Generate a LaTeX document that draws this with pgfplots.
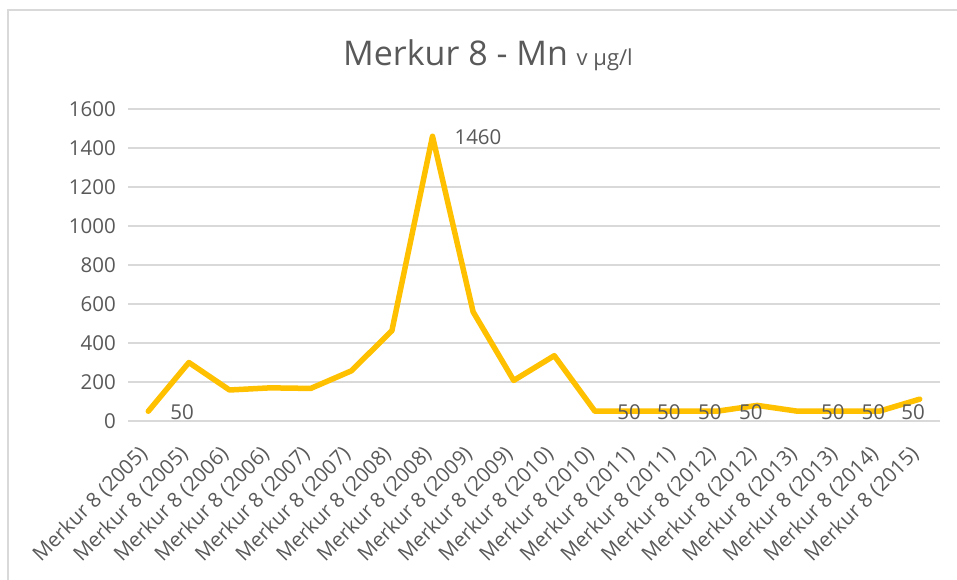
\documentclass[border=0pt]{standalone}
\usepackage{fontspec}
\setmainfont{Open Sans}
\usepackage{pgfplots}
\pgfplotsset{compat=1.18}
\definecolor{txt}{HTML}{595959}
\definecolor{gridc}{HTML}{D9D9D9}
\definecolor{gold}{HTML}{FFC000}
\newcommand{\tk}{\fontsize{20.5bp}{24bp}\selectfont}
\begin{document}
\begin{tikzpicture}
\path[use as bounding box] (0,0) rectangle (957bp,580bp);
\draw[gridc, line width=1.2bp] (8bp,-20bp) -- (8bp,570bp) -- (990bp,570bp);
\node[anchor=base, text=txt, inner sep=0pt] at (488bp,514bp) {\fontsize{34bp}{38bp}\selectfont Merkur 8 - Mn \fontsize{22bp}{26bp}\selectfont v µg/l};
\begin{axis}[
  at={(128bp,159bp)}, anchor=south west,
  scale only axis, width=812bp, height=312bp,
  xmin=-0.5, xmax=19.5, ymin=0, ymax=1600,
  ytick={0,200,...,1600},
  xtick={0,...,19},
  xticklabels={Merkur 8 (2005),Merkur 8 (2005),Merkur 8 (2006),Merkur 8 (2006),Merkur 8 (2007),Merkur 8 (2007),Merkur 8 (2008),Merkur 8 (2008),Merkur 8 (2009),Merkur 8 (2009),Merkur 8 (2010),Merkur 8 (2010),Merkur 8 (2011),Merkur 8 (2011),Merkur 8 (2012),Merkur 8 (2012),Merkur 8 (2013),Merkur 8 (2013),Merkur 8 (2014),Merkur 8 (2015)},
  axis line style={draw=none},
  major tick length=0pt,
  tick style={draw=none},
  ymajorgrids,
  grid style={gridc, line width=1.3bp},
  /pgf/number format/assume math mode=true,
  /pgf/number format/set thousands separator={},
  yticklabel style={font=\tk, text=txt, anchor=east, inner sep=0pt, xshift=-12bp},
  xticklabel style={font=\tk, text=txt, xshift=-11bp, yshift=-23bp, rotate=45, anchor=north east, inner sep=0pt},
  clip=false,
]
\addplot[gold, line width=5.5bp, line join=round, line cap=round] coordinates {
(0,50) (1,300) (2,159) (3,170) (4,167) (5,257) (6,463) (7,1460) (8,560) (9,208)
(10,335) (11,50) (12,50) (13,50) (14,50) (15,80) (16,50) (17,50) (18,50) (19,112)
};
\node[font=\tk, text=txt, inner sep=0pt] at (axis cs:0.83,46) {50};
\node[font=\tk, text=txt, inner sep=0pt] at (axis cs:8.12,1454) {1460};
\node[font=\tk, text=txt, inner sep=0pt] at (axis cs:11.84,46) {50};
\node[font=\tk, text=txt, inner sep=0pt] at (axis cs:12.82,46) {50};
\node[font=\tk, text=txt, inner sep=0pt] at (axis cs:13.83,46) {50};
\node[font=\tk, text=txt, inner sep=0pt] at (axis cs:14.84,46) {50};
\node[font=\tk, text=txt, inner sep=0pt] at (axis cs:16.86,46) {50};
\node[font=\tk, text=txt, inner sep=0pt] at (axis cs:17.86,46) {50};
\node[font=\tk, text=txt, inner sep=0pt] at (axis cs:18.84,46) {50};
\end{axis}
\end{tikzpicture}
\end{document}
